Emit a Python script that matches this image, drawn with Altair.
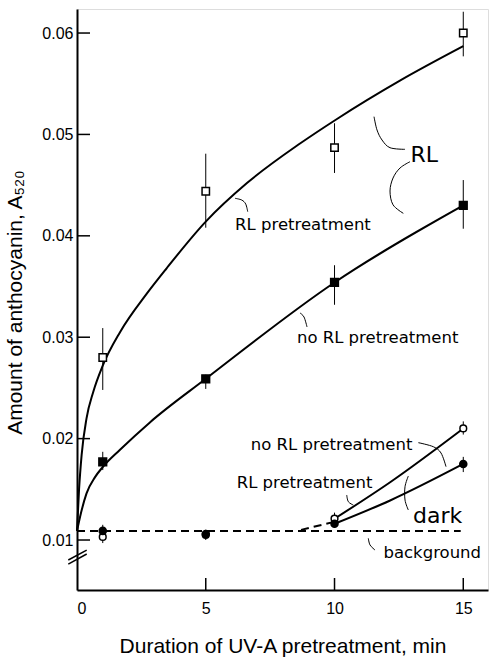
import altair as alt
import pandas as pd

# ---------------- data ----------------
dose = [1, 5, 10, 15]

# RL, RL pretreatment (open squares)
rlpre_y = [0.0280, 0.0444, 0.0487, 0.0600]
rlpre_lo = [0.0248, 0.0408, 0.0462, 0.0577]
rlpre_hi = [0.0309, 0.0481, 0.0511, 0.0621]

# RL, no RL pretreatment (filled squares)
rlno_y = [0.0177, 0.0259, 0.0354, 0.0430]
rlno_lo = [0.0169, 0.0249, 0.0332, 0.0407]
rlno_hi = [0.0187, 0.0263, 0.0371, 0.0455]

# dark, no RL pretreatment (open circles)
dkno_y = [0.0103, 0.0105, 0.0121, 0.0210]
dkno_lo = [0.0097, 0.0100, 0.0112, 0.0204]
dkno_hi = [0.0110, 0.0110, 0.0126, 0.0217]

# dark, RL pretreatment (filled circles)
dkpre_y = [0.0109, 0.0106, 0.0116, 0.0175]
dkpre_lo = [0.0104, 0.0102, 0.0112, 0.0167]
dkpre_hi = [0.0115, 0.0110, 0.0127, 0.0182]

# fitted curves
fit_pre_x = [0, 0.08, 0.18, 0.37, 0.63, 1.0, 1.67, 2.71, 3.48, 5.0, 6.6, 8.66, 10.08, 12.54, 15.0]
fit_pre_y = [0.0109, 0.0150, 0.0184, 0.0220, 0.0246, 0.0272, 0.0305, 0.0343, 0.0368, 0.0414,
             0.0452, 0.0491, 0.0515, 0.0553, 0.0587]
fit_no_x = [0, 0.12, 0.37, 0.7, 1.0, 1.67, 2.83, 5.0, 10.0, 15.0]
fit_no_y = [0.0109, 0.0123, 0.0146, 0.0162, 0.0172, 0.0189, 0.0216, 0.0259, 0.0354, 0.0430]
dark_no_x = [10, 12.16, 15]
dark_no_y = [0.0121, 0.0157, 0.0210]
dark_pre_x = [10, 12.16, 15]
dark_pre_y = [0.0116, 0.0139, 0.0175]
join_x = [8.7, 10]
join_y = [0.0110, 0.0118]
bg_x = [0, 14.9]
bg_y = [0.0109, 0.0109]

# annotations
ann_text = ["RL pretreatment", "no RL pretreatment", "no RL pretreatment", "RL pretreatment", "background"]
ann_x = [6.14, 8.54, 6.75, 6.20, 11.90]
ann_y = [0.0411, 0.0299, 0.0194, 0.0156, 0.0087]
big_text = ["RL", "dark"]
big_x = [12.95, 13.05]
big_y = [0.0480, 0.0124]

# leader arcs: id, x, y
lead_id = ["A"] * 4 + ["B"] * 3 + ["C"] * 5 + ["D"] * 6 + ["E"] * 4 + ["F"] * 3 + ["G"] * 4 + ["H"] * 3
lead_x = [6.136, 6.396, 6.551, 6.629,
          8.660, 8.816, 8.932,
          11.534, 11.650, 11.845, 12.155, 12.738,
          12.932, 12.544, 12.272, 12.155, 12.272, 12.672,
          13.254, 13.837, 14.136, 14.330,
          10.474, 10.536, 10.730,
          12.866, 12.738, 12.738, 12.866,
          11.313, 11.379, 11.573]
lead_y = [0.04370, 0.04353, 0.04314, 0.04238,
          0.03239, 0.03199, 0.03101,
          0.05175, 0.05044, 0.04945, 0.04869, 0.04853,
          0.04731, 0.04669, 0.04570, 0.04442, 0.04306, 0.04222,
          0.01960, 0.01920, 0.01858, 0.01723,
          0.01444, 0.01378, 0.01345,
          0.01631, 0.01526, 0.01394, 0.01296,
          0.01017, 0.00951, 0.00901]

# axis break marks
brk_x1 = [-0.338, -0.338]
brk_x2 = [0.377, 0.377]
brk_y1 = [0.00803, 0.00763]
brk_y2 = [0.00901, 0.00862]

x_ticks = [5, 10, 15]
y_ticks = [0.01, 0.02, 0.03, 0.04, 0.05, 0.06]

# ---------------- tables ----------------
rows = []
for name, ys, lo, hi in [("rlpre", rlpre_y, rlpre_lo, rlpre_hi),
                         ("rlno", rlno_y, rlno_lo, rlno_hi),
                         ("dkno", dkno_y, dkno_lo, dkno_hi),
                         ("dkpre", dkpre_y, dkpre_lo, dkpre_hi)]:
    for x, y, l, h in zip(dose, ys, lo, hi):
        rows.append({"s": name, "x": x, "y": y, "lo": l, "hi": h})
pts = pd.DataFrame(rows)

curves = pd.concat([
    pd.DataFrame({"c": "fitpre", "x": fit_pre_x, "y": fit_pre_y}),
    pd.DataFrame({"c": "fitno", "x": fit_no_x, "y": fit_no_y}),
    pd.DataFrame({"c": "darkno", "x": dark_no_x, "y": dark_no_y}),
    pd.DataFrame({"c": "darkpre", "x": dark_pre_x, "y": dark_pre_y}),
])
dashed = pd.concat([
    pd.DataFrame({"c": "bg", "x": bg_x, "y": bg_y}),
    pd.DataFrame({"c": "join", "x": join_x, "y": join_y}),
])
ann = pd.DataFrame({"t": ann_text, "x": ann_x, "y": ann_y})
big = pd.DataFrame({"t": big_text, "x": big_x, "y": big_y})
leads = pd.DataFrame({"id": lead_id, "x": lead_x, "y": lead_y})
leads["i"] = range(len(leads))
brk = pd.DataFrame({"x": brk_x1, "x2": brk_x2, "y": brk_y1, "y2": brk_y2})
xt = pd.DataFrame({"x": x_ticks})
yt = pd.DataFrame({"y": y_ticks})

W, H = 411, 581
XD = [0, 15.96]
YD = [0.00507, 0.06237]
xs = alt.Scale(domain=XD, nice=False, zero=False)
ys_ = alt.Scale(domain=YD, nice=False, zero=False)

AX_FONT = "Liberation Sans"
ANN_FONT = "DejaVu Sans"

X = alt.X("x:Q", scale=xs, axis=alt.Axis(
    values=[0, 5, 10, 15], grid=False, ticks=False, domainWidth=2, domainColor="black",
    labelFont=AX_FONT, labelFontSize=16, labelColor="black", labelPadding=10,
    title="Duration of UV-A pretreatment, min", titleFont=AX_FONT, titleFontSize=21,
    titleFontWeight="normal", titleColor="black", titlePadding=19))
Y = alt.Y("y:Q", scale=ys_, axis=alt.Axis(
    values=y_ticks, format=".2f", grid=False, ticks=False, domainWidth=2, domainColor="black",
    labelFont=AX_FONT, labelFontSize=16, labelColor="black", labelPadding=4,
    title="Amount of anthocyanin, A₅₂₀", titleFont=AX_FONT, titleFontSize=21,
    titleFontWeight="normal", titleColor="black", titleX=-52, titleY=293,
    titleAlign="center", titleAngle=270))

base = alt.Chart(pts)

curve_layer = alt.Chart(curves).mark_line(color="black", strokeWidth=2, interpolate="monotone").encode(
    x=alt.X("x:Q", scale=xs), y=alt.Y("y:Q", scale=ys_), detail="c:N")
dash_layer = alt.Chart(dashed).mark_line(color="black", strokeWidth=2, strokeDash=[8, 5]).encode(
    x=alt.X("x:Q", scale=xs), y=alt.Y("y:Q", scale=ys_), detail="c:N")
err = base.mark_rule(color="black", strokeWidth=1).encode(
    x=alt.X("x:Q", scale=xs), y=alt.Y("lo:Q", scale=ys_), y2="hi:Q")

def pt(sel, shape, filled, size):
    return base.transform_filter(alt.datum.s == sel).mark_point(
        shape=shape, filled=True, fill="black" if filled else "white",
        stroke="black", strokeWidth=1.5, size=size, opacity=1).encode(
        x=alt.X("x:Q", scale=xs), y=alt.Y("y:Q", scale=ys_))

p1 = pt("rlpre", "square", False, 55)
p2 = pt("rlno", "square", True, 60)
p3 = pt("dkno", "circle", False, 45)
p4 = pt("dkpre", "circle", True, 50)

ann_layer = alt.Chart(ann).mark_text(align="left", baseline="middle", font=ANN_FONT,
                                     fontSize=16.5, color="black").encode(
    x=alt.X("x:Q", scale=xs), y=alt.Y("y:Q", scale=ys_), text="t:N")
big_layer = alt.Chart(big).mark_text(align="left", baseline="middle", font=ANN_FONT,
                                     fontSize=22, color="black").encode(
    x=alt.X("x:Q", scale=xs), y=alt.Y("y:Q", scale=ys_), text="t:N")
lead_layer = alt.Chart(leads).mark_line(color="black", strokeWidth=1, interpolate="cardinal").encode(
    x=alt.X("x:Q", scale=xs), y=alt.Y("y:Q", scale=ys_), detail="id:N", order="i:Q")
brk_layer = alt.Chart(brk).mark_rule(color="black", strokeWidth=1.5).encode(
    x=alt.X("x:Q", scale=xs), x2="x2:Q", y=alt.Y("y:Q", scale=ys_), y2="y2:Q")
xt_layer = alt.Chart(xt).mark_rule(color="black", strokeWidth=1.5).encode(
    x=alt.X("x:Q", scale=xs), y=alt.value(H), y2=alt.value(H - 12))
yt_layer = alt.Chart(yt).mark_rule(color="black", strokeWidth=1.5).encode(
    y=alt.Y("y:Q", scale=ys_), x=alt.value(0), x2=alt.value(13))

axes_layer = alt.Chart(pts).mark_point(opacity=0).encode(x=X, y=Y)

chart = alt.layer(
    axes_layer, dash_layer, curve_layer, err, p1, p2, p3, p4,
    ann_layer, big_layer, lead_layer, brk_layer, xt_layer, yt_layer
).properties(
    width=W, height=H,
    autosize=alt.AutoSizeParams(type="none"),
    padding={"left": 77, "top": 9, "right": 1, "bottom": 67},
).configure_view(stroke="black", strokeWidth=1.5).configure(background="white")

chart.save("out.html", embed_options={"renderer": "svg", "actions": False})
